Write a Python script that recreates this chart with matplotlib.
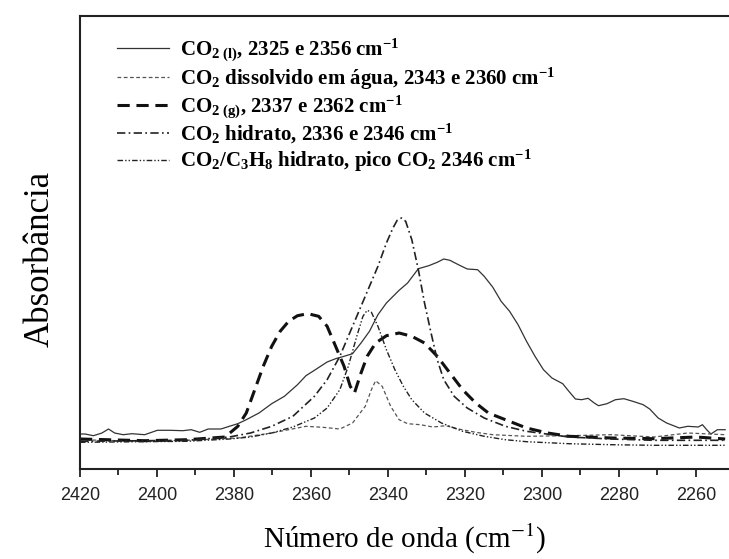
import matplotlib
matplotlib.use('Agg')
import matplotlib.pyplot as plt
from matplotlib.ticker import MultipleLocator

plt.rcParams['mathtext.fontset'] = 'custom'
plt.rcParams['mathtext.rm'] = 'Liberation Serif:bold'
plt.rcParams['mathtext.it'] = 'Liberation Serif:bold:italic'
plt.rcParams['mathtext.bf'] = 'Liberation Serif:bold'
plt.rcParams['mathtext.default'] = 'rm'

# CO2 liquido
wn_liq = [2420, 2418.7, 2416.5, 2414.3, 2412.6, 2411.0, 2408.8, 2406.5, 2403.2, 2399.9,
          2396.6, 2393.3, 2391.1, 2388.9, 2386.7, 2383.4, 2381.2, 2379.0, 2376.8, 2373.5,
          2370.2, 2366.9, 2363.5, 2361.3, 2359.1, 2355.8, 2353.6, 2351.4, 2349.2, 2347.0,
          2344.8, 2342.6, 2340.4, 2337.1, 2334.9, 2332.1, 2329.4, 2327.2, 2325.5, 2323.9,
          2321.7, 2319.4, 2316.7, 2315.0, 2312.8, 2310.6, 2308.4, 2306.2, 2304.0, 2301.8,
          2299.6, 2297.4, 2294.6, 2293.0, 2291.3, 2289.7, 2288.0, 2286.4, 2285.3, 2283.1,
          2280.9, 2278.7, 2276.4, 2273.7, 2272.0, 2269.8, 2267.6, 2264.3, 2262.1, 2259.4,
          2258.3, 2257.2, 2256.1, 2254.4, 2252.4]
abs_liq = [0.35, 0.35, 0.333, 0.36, 0.40, 0.36, 0.343, 0.353, 0.343, 0.387,
           0.387, 0.383, 0.393, 0.367, 0.40, 0.40, 0.427, 0.453, 0.493, 0.56,
           0.653, 0.727, 0.843, 0.933, 0.987, 1.07, 1.103, 1.127, 1.153, 1.26,
           1.377, 1.543, 1.66, 1.787, 1.86, 2.003, 2.033, 2.067, 2.10, 2.087,
           2.043, 2.0, 1.993, 1.927, 1.82, 1.677, 1.577, 1.443, 1.277, 1.127,
           0.993, 0.91, 0.853, 0.777, 0.70, 0.693, 0.707, 0.66, 0.633, 0.653,
           0.693, 0.703, 0.677, 0.643, 0.60, 0.51, 0.46, 0.41, 0.427, 0.42,
           0.443, 0.393, 0.35, 0.393, 0.393]

# CO2 dissolvido em agua
wn_dis = [2420, 2414.3, 2403.2, 2392.2, 2379.0, 2370.2, 2361.3, 2356.9, 2352.5, 2349.2,
          2345.9, 2344.3, 2343.2, 2341.5, 2339.3, 2337.1, 2334.9, 2331.6, 2328.3, 2325.0,
          2321.7, 2317.2, 2312.8, 2304.0, 2293.0, 2282.0, 2270.9, 2262.1, 2252.4]
abs_dis = [0.293, 0.287, 0.277, 0.287, 0.31, 0.36, 0.427, 0.417, 0.40, 0.46,
           0.627, 0.793, 0.883, 0.827, 0.627, 0.493, 0.453, 0.443, 0.42, 0.433,
           0.40, 0.367, 0.343, 0.327, 0.333, 0.343, 0.32, 0.36, 0.343]

# CO2 gasoso
wn_gas = [2420, 2403.2, 2392.2, 2382.3, 2379.0, 2376.8, 2374.6, 2372.4, 2370.2, 2368.0,
          2365.8, 2363.5, 2360.8, 2358.0, 2355.8, 2353.6, 2351.4, 2349.8, 2348.7, 2347.0,
          2345.4, 2343.2, 2340.4, 2337.1, 2333.8, 2330.5, 2327.2, 2323.9, 2320.6, 2317.2,
          2313.9, 2309.5, 2304.0, 2298.5, 2293.0, 2282.0, 2270.9, 2259.9, 2252.4]
abs_gas = [0.30, 0.283, 0.293, 0.32, 0.427, 0.56, 0.793, 1.027, 1.227, 1.377,
           1.477, 1.533, 1.553, 1.527, 1.427, 1.227, 1.027, 0.827, 0.76, 0.96,
           1.127, 1.26, 1.333, 1.36, 1.327, 1.26, 1.127, 0.96, 0.793, 0.66,
           0.56, 0.493, 0.41, 0.36, 0.327, 0.31, 0.303, 0.32, 0.30]

# CO2 hidrato
wn_hid = [2420, 2392.2, 2381.2, 2375.7, 2370.2, 2364.7, 2359.1, 2355.8, 2352.5, 2349.2,
          2347.0, 2344.8, 2342.6, 2340.4, 2338.7, 2337.6, 2336.5, 2335.4, 2333.8, 2332.1,
          2330.5, 2328.8, 2327.2, 2325.5, 2322.8, 2319.4, 2315.0, 2309.5, 2304.0, 2293.0,
          2282.0, 2270.9, 2252.4]
abs_hid = [0.277, 0.287, 0.32, 0.36, 0.427, 0.527, 0.727, 0.893, 1.127, 1.427,
           1.627, 1.827, 2.027, 2.26, 2.41, 2.487, 2.51, 2.477, 2.293, 1.993,
           1.66, 1.36, 1.093, 0.893, 0.727, 0.61, 0.51, 0.427, 0.377, 0.32,
           0.30, 0.287, 0.287]

# CO2/C3H8 hidrato
wn_mix = [2420, 2392.2, 2381.2, 2375.7, 2370.2, 2364.7, 2359.1, 2355.8, 2352.5, 2350.3,
          2348.1, 2346.5, 2345.4, 2344.3, 2342.6, 2340.4, 2338.2, 2336.0, 2333.8, 2330.5,
          2326.1, 2320.6, 2315.0, 2309.5, 2304.0, 2293.0, 2282.0, 2270.9, 2252.4]
abs_mix = [0.267, 0.277, 0.30, 0.32, 0.36, 0.42, 0.51, 0.61, 0.793, 1.027,
           1.327, 1.527, 1.587, 1.567, 1.427, 1.193, 0.993, 0.827, 0.693, 0.56,
           0.46, 0.377, 0.327, 0.293, 0.273, 0.253, 0.243, 0.237, 0.237]

labels = [r'CO$_{2\ (l)}$, 2325 e 2356 cm$^{-1}$',
          r'CO$_2$ dissolvido em água, 2343 e 2360 cm$^{-1}$',
          r'CO$_{2\ (g)}$, 2337 e 2362 cm$^{-1}$',
          r'CO$_2$ hidrato, 2336 e 2346 cm$^{-1}$',
          r'CO$_2$/C$_3$H$_8$ hidrato, pico CO$_2$ 2346 cm$^{-1}$']

fig = plt.figure(figsize=(7.29, 5.59), dpi=100)
ax = fig.add_axes([80 / 729, 90 / 559, 1 - 80 / 729, 453 / 559])

ax.plot(wn_liq, abs_liq, color='#333333', lw=0.9, label=labels[0])
ax.plot(wn_dis, abs_dis, color='#555555', lw=0.9, dashes=(3, 2), label=labels[1])
ax.plot(wn_gas, abs_gas, color='#111111', lw=2.2, dashes=(4, 2.2), label=labels[2])
ax.plot(wn_hid, abs_hid, color='#222222', lw=1.2, dashes=(5, 2, 1, 2), label=labels[3])
ax.plot(wn_mix, abs_mix, color='#222222', lw=1.0,
        dashes=(4, 1.5, 1, 1.5, 1, 1.5), label=labels[4])

ax.set_xlim(2420, 2251.4)
ax.set_ylim(0, 4.53)
ax.set_yticks([])
ax.spines['right'].set_visible(False)
for s in ['left', 'bottom', 'top']:
    ax.spines[s].set_linewidth(1.5)
    ax.spines[s].set_color('#222222')

ax.xaxis.set_major_locator(MultipleLocator(20))
ax.xaxis.set_minor_locator(MultipleLocator(10))
ax.tick_params(axis='x', which='major', direction='out', length=6, width=1.3,
               labelsize=13, pad=7, colors='#222222')
ax.tick_params(axis='x', which='minor', direction='out', length=4, width=1.3,
               colors='#222222')
for t in ax.get_xticklabels():
    t.set_fontfamily('Liberation Sans')

fig.text(405 / 729, 20 / 559, 'Número de onda (cm$^{-1}$)', family='Liberation Serif',
         fontsize=21, ha='center', va='center', math_fontfamily='stix')
fig.text(40 / 729, 300 / 559, 'Absorbância', family='Liberation Serif', fontsize=25,
         rotation=90, ha='center', va='center')

leg = ax.legend(loc='upper left', bbox_to_anchor=(0.028, 0.995), frameon=False,
                prop={'family': 'Liberation Serif', 'weight': 'bold', 'size': 15},
                handlelength=2.5, handletextpad=0.55, labelspacing=0.08)

fig.savefig('out.png', dpi=100)
